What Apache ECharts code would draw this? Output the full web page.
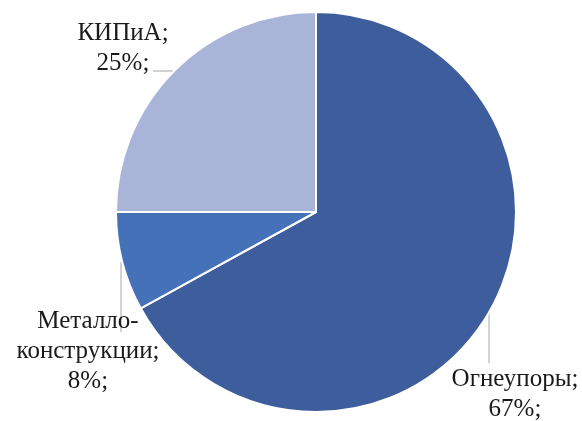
<!DOCTYPE html>
<html>
<head>
<meta charset="utf-8">
<script src="https://cdn.jsdelivr.net/npm/echarts@6/dist/echarts.min.js"></script>
<style>
  html, body { margin: 0; padding: 0; background: #ffffff; }
  #chart { width: 582px; height: 421px; }
</style>
</head>
<body>
<div id="chart"></div>
<script>
// Structure of supplies by category, share in percent
const categories = ['Огнеупоры', 'Металло-\nконструкции', 'КИПиА'];
const shares = [67, 8, 25];
const colors = ['#3E5D9C', '#4571B9', '#A8B4D8'];

// Label placement for each slice: text block anchor and leader line
const labelPlacement = [
  { x: 515, y: 364, line: [[489, 312], [489, 340], [489, 363]] },
  { x: 88, y: 306, line: [[121, 262], [121, 300], [121, 332]] },
  { x: 123, y: 18, line: [[174, 71], [164, 71], [153, 71]] }
];

const chart = echarts.init(document.getElementById('chart'), null, { renderer: 'canvas' });

chart.setOption({
  backgroundColor: '#ffffff',
  animation: false,
  series: [{
    type: 'pie',
    center: [316, 212],
    radius: [0, 200],
    startAngle: 90,
    clockwise: true,
    avoidLabelOverlap: false,
    itemStyle: { borderColor: '#ffffff', borderWidth: 2 },
    label: {
      show: true,
      position: 'outside',
      fontFamily: '"Liberation Serif", "Times New Roman", serif',
      fontSize: 25,
      lineHeight: 30,
      color: '#1a1a1a',
      align: 'center',
      formatter: p => p.name + ';\n' + p.value + '%;'
    },
    labelLine: {
      show: true,
      lineStyle: { color: '#A6A6A6', width: 1 }
    },
    labelLayout: p => {
      const pl = labelPlacement[p.dataIndex];
      return {
        x: pl.x,
        y: pl.y,
        align: 'center',
        verticalAlign: 'top',
        labelLinePoints: pl.line
      };
    },
    data: categories.map((name, i) => ({
      name: name,
      value: shares[i],
      itemStyle: { color: colors[i] }
    }))
  }]
});
</script>
</body>
</html>
